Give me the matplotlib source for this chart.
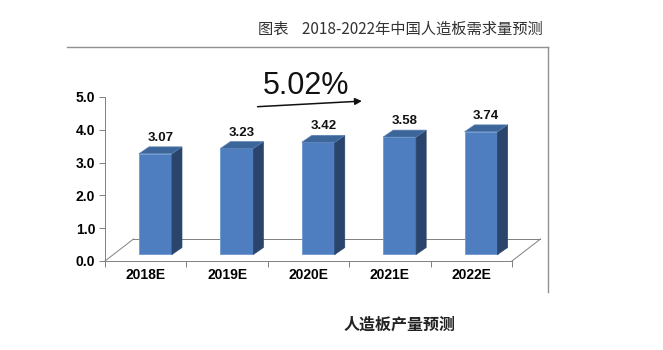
import matplotlib.pyplot as plt
from matplotlib.patches import Polygon
from matplotlib.lines import Line2D

plt.rcParams['font.family'] = ['Noto Sans CJK SC', 'DejaVu Sans']

years = ['2018E', '2019E', '2020E', '2021E', '2022E']
output = [3.07, 3.23, 3.42, 3.58, 3.74]
cagr_label = '5.02%'
title = '图表    2018-2022年中国人造板需求量预测'
subtitle = '人造板产量预测'

# pseudo-3D look
base = 0.2       # front face starts a little above the floor edge
bar_w = 0.405
shift = 0.12     # centre offset of the front face
dx, dy = 0.123, 0.21   # depth of each bar
fdx, fdy = 0.35, 0.67  # depth of the floor

front_c = '#4F7EC0'
side_c = '#2B446B'
top_c = '#3C659A'

fig = plt.figure(figsize=(6.63, 3.5), dpi=100)
ax = fig.add_axes([105 / 663, 1 - 261 / 350, 407 / 663, 164 / 350])
ax.set_xlim(-0.5, 4.5)
ax.set_ylim(0, 5)

# floor outline
fl = dict(color='#808080', lw=0.7, clip_on=False)
ax.plot([-0.5, -0.5 + fdx], [0, fdy], **fl)
ax.plot([-0.5 + fdx, 4.5 + fdx], [fdy, fdy], **fl)
ax.plot([4.5, 4.5 + fdx], [0, fdy], **fl)

for i, v in enumerate(output):
    x0 = i + shift - bar_w / 2
    x1 = x0 + bar_w
    y1 = base + v
    ax.bar(i + shift, v, width=bar_w, bottom=base, color=front_c,
           edgecolor='#6E98CF', linewidth=0.6, zorder=3)
    ax.add_patch(Polygon([[x1, base], [x1 + dx, base + dy], [x1 + dx, y1 + dy], [x1, y1]],
                         closed=True, facecolor=side_c, edgecolor=side_c, lw=0.5, zorder=3))
    ax.add_patch(Polygon([[x0, y1], [x1, y1], [x1 + dx, y1 + dy], [x0 + dx, y1 + dy]],
                         closed=True, facecolor=top_c, edgecolor='#5A82B5', lw=0.5, zorder=3))
    ax.text(i + shift + dx / 2, v + 0.5, f'{v:.2f}', ha='center', va='bottom',
            fontsize=9.5, fontweight='bold', family='Liberation Sans', color='#111111', zorder=4)

ax.set_xticks(range(len(years)))
ax.set_xticklabels(years, fontsize=10, fontweight='bold', family='Liberation Sans')
ax.set_xticks([i - 0.5 for i in range(len(years) + 1)], minor=True)
ax.tick_params(axis='x', which='major', length=0, pad=5)
ax.tick_params(axis='x', which='minor', length=4, color='#808080', width=0.7)

ax.set_yticks([0, 1, 2, 3, 4, 5])
ax.set_yticklabels([f'{t:.1f}' for t in range(6)], fontsize=10, fontweight='bold',
                   family='Liberation Sans')
ax.tick_params(axis='y', length=4, color='#808080', width=0.7, pad=3)

for s in ['top', 'right']:
    ax.spines[s].set_visible(False)
for s in ['left', 'bottom']:
    ax.spines[s].set_color('#808080')
    ax.spines[s].set_linewidth(0.7)
ax.patch.set_alpha(0)

# growth arrow and rate
ax.annotate('', xy=(2.69, 4.88), xytext=(1.34, 4.70),
            arrowprops=dict(arrowstyle='-|>', color='#111111', lw=1.1, mutation_scale=10),
            annotation_clip=False)
ax.text(1.97, 5.34, cagr_label, ha='center', va='center', fontsize=22,
        family='Liberation Sans', color='#111111', clip_on=False)

# outer frame (top and right edges only)
fig.add_artist(Line2D([67 / 663, 548 / 663], [1 - 47 / 350, 1 - 47 / 350],
                      color='#909090', lw=1))
fig.add_artist(Line2D([548 / 663, 548 / 663], [1 - 47 / 350, 1 - 292 / 350],
                      color='#909090', lw=1))

fig.text(400 / 663, 1 - 29 / 350, title, ha='center', va='center',
         fontsize=11, color='#333333')
fig.text(400 / 663, 1 - 325 / 350, subtitle, ha='center', va='center',
         fontsize=11.5, fontweight='bold', color='#222222')

fig.savefig('out.png', dpi=100, facecolor='white')
